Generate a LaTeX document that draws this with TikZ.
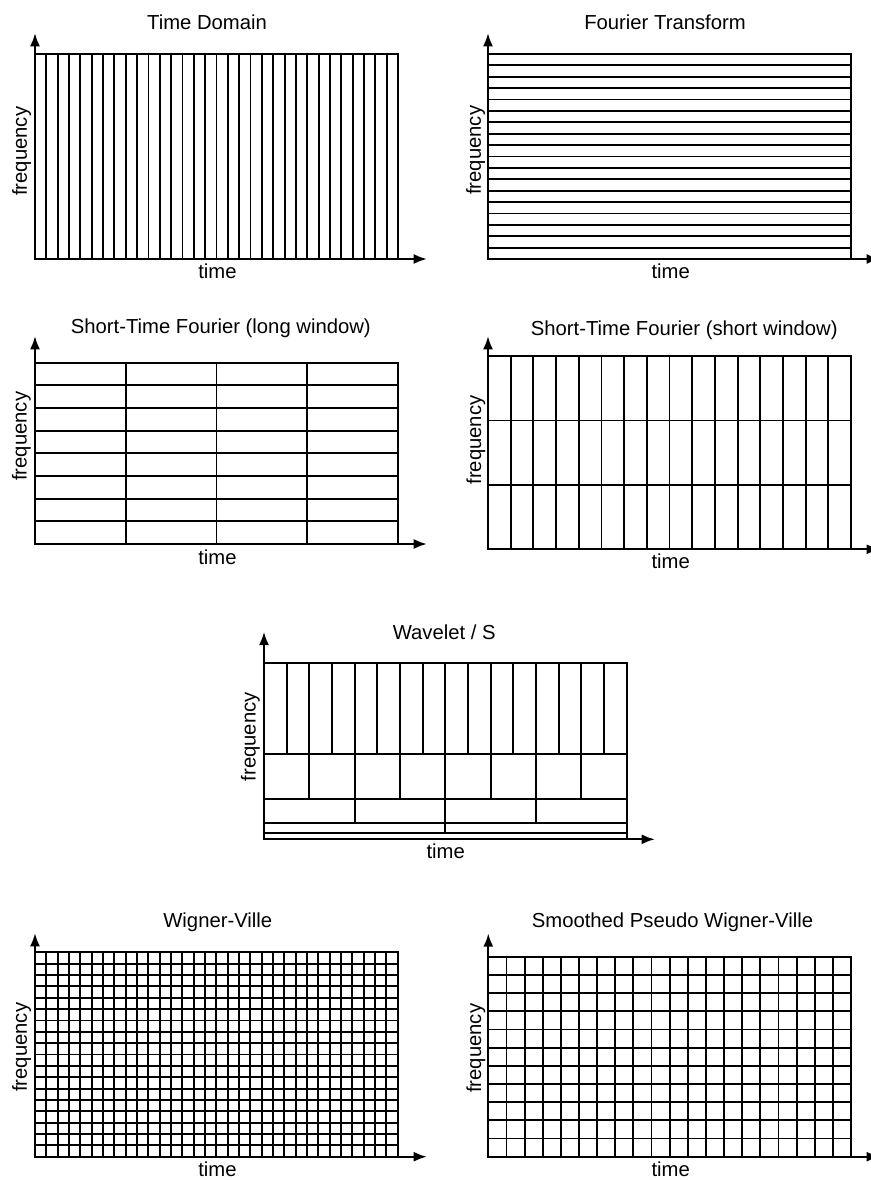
\documentclass[tikz,border=0pt]{standalone}
\usepackage{fontspec}
\setmainfont{Liberation Sans}
\usetikzlibrary{arrows.meta}

\begin{document}
\begin{tikzpicture}[
    x=0.75pt, y=-0.75pt,
    gline/.style={line width=1.4pt, line cap=rect},
    axis/.style={line width=1.7pt, -{Latex[length=10pt,width=7.5pt]}},
    ttl/.style={anchor=base, inner sep=0pt, font=\fontsize{15.2}{18}\selectfont},
    tlbl/.style={anchor=base, inner sep=0pt, font=\fontsize{15.2}{18}\selectfont},
    flbl/.style={rotate=90, inner sep=0pt, font=\fontsize{15.2}{18}\selectfont}
]
\useasboundingbox (0,0) rectangle (870,1180);

% Time Domain
\coordinate (o1) at (35,259);
\coordinate (y1) at (35,33);
\coordinate (x1) at (427,259);
\draw[gline] (o1) rectangle (398,54);
\foreach \i in {1,...,31} \draw[gline] ({35+\i*363/32},54) -- ({35+\i*363/32},259);
\draw[axis] (o1) -- (y1);
\draw[axis] (o1) -- (x1);
\node[ttl] (t1) at (207,29.3) {Time Domain};
\node[flbl] (f1) at (21.7,151.3) {frequency};
\node[tlbl] (l1) at (217.5,278.3) {time};

% Fourier Transform
\coordinate (o2) at (488,259);
\coordinate (y2) at (488,33);
\coordinate (x2) at (880,259);
\draw[gline] (o2) rectangle (851,54);
\foreach \j in {1,...,17} \draw[gline] (488,{54+\j*205/18}) -- (851,{54+\j*205/18});
\draw[axis] (o2) -- (y2);
\draw[axis] (o2) -- (x2);
\node[ttl] (t2) at (665,29.3) {Fourier Transform};
\node[flbl] (f2) at (475.7,150.3) {frequency};
\node[tlbl] (l2) at (670.7,278.3) {time};

% Short-Time Fourier, long window
\coordinate (o3) at (35,544);
\coordinate (y3) at (35,336);
\coordinate (x3) at (427,544);
\draw[gline] (o3) rectangle (398,362.7);
\foreach \i in {1,...,3} \draw[gline] ({35+\i*363/4},362.7) -- ({35+\i*363/4},544);
\foreach \j in {1,...,7} \draw[gline] (35,{362.7+\j*181.3/8}) -- (398,{362.7+\j*181.3/8});
\draw[axis] (o3) -- (y3);
\draw[axis] (o3) -- (x3);
\node[ttl] (t3) at (220.8,333.3) {Short-Time Fourier (long window)};
\node[flbl] (f3) at (21.3,436.3) {frequency};
\node[tlbl] (l3) at (217.5,564.3) {time};

% Short-Time Fourier, short window
\coordinate (o4) at (488,549.3);
\coordinate (y4) at (488,336);
\coordinate (x4) at (880,549.3);
\draw[gline] (o4) rectangle (851,356);
\foreach \i in {1,...,15} \draw[gline] ({488+\i*363/16},356) -- ({488+\i*363/16},549.3);
\foreach \j in {1,2} \draw[gline] (488,{356+\j*193.3/3}) -- (851,{356+\j*193.3/3});
\draw[axis] (o4) -- (y4);
\draw[axis] (o4) -- (x4);
\node[ttl] (t4) at (684.2,335) {Short-Time Fourier (short window)};
\node[flbl] (f4) at (476,440) {frequency};
\node[tlbl] (l4) at (670.7,568.3) {time};

% Wavelet / S
\coordinate (o5) at (264,839.3);
\coordinate (y5) at (264,631.7);
\coordinate (x5) at (655,839.3);
\draw[gline] (o5) rectangle (626.7,663.3);
\foreach \top/\bot/\n in {663.3/754.3/16, 754.3/799.3/8, 799.3/822.7/4, 822.7/833.3/2} {
  \draw[gline] (264,\bot) -- (626.7,\bot);
  \foreach \i in {1,...,\n} \draw[gline] ({264+\i*362.7/\n},\top) -- ({264+\i*362.7/\n},\bot);
}
\draw[axis] (o5) -- (y5);
\draw[axis] (o5) -- (x5);
\node[ttl] (t5) at (444.2,639.3) {Wavelet / S};
\node[flbl] (f5) at (250.5,736.7) {frequency};
\node[tlbl] (l5) at (445.7,858.3) {time};

% Wigner-Ville
\coordinate (o6) at (35,1156.7);
\coordinate (y6) at (35,933);
\coordinate (x6) at (427,1156.7);
\draw[gline] (o6) rectangle (397.7,952.3);
\foreach \i in {1,...,31} \draw[gline] ({35+\i*362.7/32},952.3) -- ({35+\i*362.7/32},1156.7);
\foreach \j in {1,...,17} \draw[gline] (35,{952.3+\j*204.4/18}) -- (397.7,{952.3+\j*204.4/18});
\draw[axis] (o6) -- (y6);
\draw[axis] (o6) -- (x6);
\node[ttl] (t6) at (217.8,927.3) {Wigner-Ville};
\node[flbl] (f6) at (21.7,1047.3) {frequency};
\node[tlbl] (l6) at (217.5,1176) {time};

% Smoothed Pseudo Wigner-Ville
\coordinate (o7) at (488.3,1156.7);
\coordinate (y7) at (488.3,933.3);
\coordinate (x7) at (880,1156.7);
\draw[gline] (o7) rectangle (851,956.7);
\foreach \i in {1,...,19} \draw[gline] ({488.3+\i*362.7/20},956.7) -- ({488.3+\i*362.7/20},1156.7);
\foreach \j in {1,...,10} \draw[gline] (488.3,{956.7+\j*200/11}) -- (851,{956.7+\j*200/11});
\draw[axis] (o7) -- (y7);
\draw[axis] (o7) -- (x7);
\node[ttl] (t7) at (672.5,927.3) {Smoothed Pseudo Wigner-Ville};
\node[flbl] (f7) at (476,1048.3) {frequency};
\node[tlbl] (l7) at (670.7,1176) {time};
\end{tikzpicture}
\end{document}
